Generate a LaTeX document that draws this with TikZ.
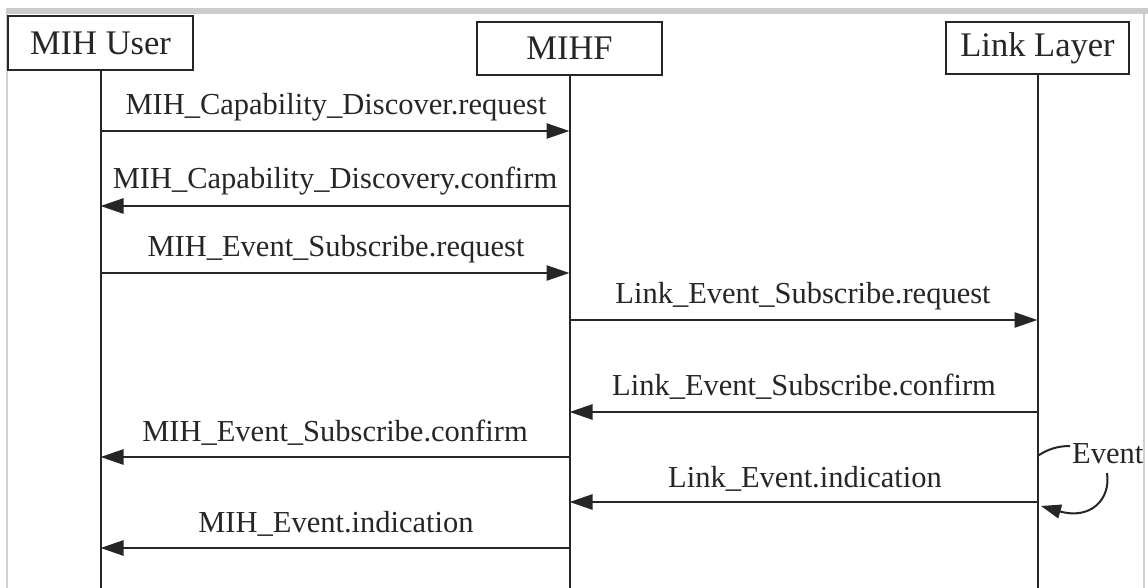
\documentclass[tikz,border=0pt]{standalone}
\usepackage{fontspec}
\setmainfont{Liberation Serif}
\usetikzlibrary{arrows.meta}
\begin{document}
\begin{tikzpicture}[x=1pt,y=-1pt,
  hdr/.style={draw=black!85,line width=2.2pt,inner sep=0pt,font=\fontsize{34.5}{40}\selectfont,text=black!85},
  lbl/.style={font=\fontsize{30.5}{36}\selectfont,text=black!85,inner sep=0pt,anchor=base},
  life/.style={draw=black!85,line width=2pt},
  msg/.style={draw=black!85,line width=2.6pt,-{Triangle[length=23pt,width=15pt]}},
  frame/.style={draw=black!18,line width=2pt}]
\useasboundingbox (0,0) rectangle (1148,588);
% screen frame
\fill[black!20] (6,8) rectangle (1148,14);
\draw[frame] (7,14) -- (7,588);
\draw[frame] (1144,14) -- (1144,588);
% headers
\node[hdr,minimum width=185pt,minimum height=54pt] (user) at (100.5,43) {MIH User};
\node[hdr,minimum width=185pt,minimum height=53pt] (mihf) at (569.5,48.5) {MIHF};
\node[hdr,minimum width=183pt,minimum height=52pt] (link) at (1037.5,48) {Link Layer};
% lifeline ends
\coordinate (uE) at (user.south |- 0,590);
\coordinate (mE) at (mihf.south |- 0,590);
\coordinate (lE) at (link.south |- 0,590);
\draw[life] (user.south) -- (uE);
\draw[life] (mihf.south) -- (mE);
\draw[life] (link.south) -- (lE);
% message points
\foreach \n/\y in {1/131,2/206,3/273,4/320,5/412,6/457,7/502,8/548}{
  \coordinate (u\n) at (user.south |- 0,\y);
  \coordinate (m\n) at (mihf.south |- 0,\y);
  \coordinate (l\n) at (link.south |- 0,\y);
}
\draw[msg] (u1) -- (m1);
\node[lbl] (t1) at (336,115) {MIH\_Capability\_Discover.request};
\draw[msg] (m2) -- (u2);
\node[lbl] (t2) at (335,189) {MIH\_Capability\_Discovery.confirm};
\draw[msg] (u3) -- (m3);
\node[lbl] (t3) at (336,256) {MIH\_Event\_Subscribe.request};
\draw[msg] (m4) -- (l4);
\node[lbl] (t4) at (803,303) {Link\_Event\_Subscribe.request};
\draw[msg] (l5) -- (m5);
\node[lbl] (t5) at (804,395) {Link\_Event\_Subscribe.confirm};
\draw[msg] (m6) -- (u6);
\node[lbl] (t6) at (335,441) {MIH\_Event\_Subscribe.confirm};
\draw[msg] (l7) -- (m7);
\node[lbl] (t7) at (805,487) {Link\_Event.indication};
\draw[msg] (m8) -- (u8);
\node[lbl] (t8) at (336,532) {MIH\_Event.indication};
% event
\node[lbl,anchor=base west] (ev) at (1072,463) {Event};
\coordinate (evs) at (link.south |- 0,456);
\coordinate (evin) at (1041,506);
\draw[draw=black!85,line width=2pt] (evs) .. controls (1048,449) and (1058,446) .. (1070,446);
\draw[draw=black!85,line width=2pt,-{Triangle[length=20pt,width=14pt]}] (1107,473) .. controls (1111,500) and (1090,520) .. (evin);
\end{tikzpicture}
\end{document}
